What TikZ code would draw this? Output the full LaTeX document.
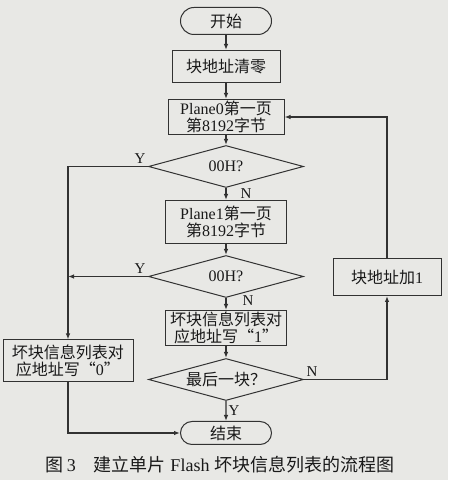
\documentclass[tikz,border=0pt]{standalone}
\usepackage{fontspec}
\setmainfont{Liberation Serif}
\newfontfamily\cjk{Noto Sans CJK SC}
\usetikzlibrary{arrows.meta,positioning,shapes.geometric,shapes.misc}
\definecolor{paper}{RGB}{232,232,229}
\definecolor{ink}{RGB}{50,50,50}

\begin{document}
\begin{tikzpicture}[
  x=1pt,y=1pt,
  line/.style={draw=ink,line width=1.1pt},
  proc/.style={draw=ink,line width=1pt,align=center,inner sep=0.5pt,text=black!90,font=\fontsize{16}{17.5}\selectfont},
  term/.style={proc,rounded rectangle,minimum width=92pt},
  decide/.style={proc,diamond,aspect=3.7,inner sep=0pt,minimum width=155pt,minimum height=42pt},
  lbl/.style={font=\fontsize{15}{15}\selectfont,text=black!90,inner sep=2pt},
  >={Latex[length=6pt,width=4.5pt]}
]
\useasboundingbox[fill=paper] (0,0) rectangle (448,480);
% main column
\node[term,minimum height=27pt] (start) at (226,459) {{\cjk 开始}};
\node[proc,below=15pt of start,minimum width=108pt,minimum height=32pt] (blk) {{\cjk 块地址清零}};
\node[proc,below=16pt of blk,minimum width=116pt,minimum height=35pt] (p0) {Plane0{\cjk 第一页}\\{\cjk 第}8192{\cjk 字节}};
\node[decide,below=10pt of p0] (d1) {00H?};
\node[proc,below=12pt of d1,minimum width=121pt,minimum height=43pt] (p1) {Plane1{\cjk 第一页}\\{\cjk 第}8192{\cjk 字节}};
\node[decide,below=11pt of p1] (d2) {00H?};
\node[proc,below=12pt of d2,minimum width=121pt,minimum height=35pt] (w1) {{\cjk 坏块信息列表对}\\{\cjk 应地址写“}1{\cjk ”}};
\node[decide,below=12pt of w1] (d3) {{\cjk 最后一块？}};
\node[term,below=20pt of d3,minimum height=23pt] (end) {{\cjk 结束}};
% side boxes
\node[proc,minimum width=130pt,minimum height=42pt] (w0) at (68,119) {{\cjk 坏块信息列表对}\\{\cjk 应地址写“}0{\cjk ”}};
\node[proc,minimum width=108pt,minimum height=37pt] (inc) at (387,203) {{\cjk 块地址加}1};
% caption
\node[font=\fontsize{18}{18}\selectfont,text=black!90] (cap) at (220,15) {{\cjk 图}\,3\quad{\cjk 建立单片} Flash {\cjk 坏块信息列表的流程图}};
% connectors
\draw[line,->] (start) -- (blk);
\draw[line,->] (blk) -- (p0);
\draw[line,->] (p0) -- (d1);
\draw[line,->] (d1) -- node[lbl,right,xshift=12pt]{N} (p1);
\draw[line,->] (p1) -- (d2);
\draw[line,->] (d2) -- node[lbl,right,xshift=14pt,yshift=3pt]{N} (w1);
\draw[line,->] (w1) -- (d3);
\draw[line,->] (d3) -- node[lbl,right]{Y} (end);
\draw[line,->] (d1.west) -- node[lbl,above left,pos=0]{Y} (d1.west -| w0.north) -- (w0.north);
\draw[line,->] (d2.west) -- node[lbl,above left,pos=0]{Y} (d2.west -| w0.north);
\draw[line,->] (w0.south) |- (end.west);
\draw[line,->] (d3.east) -- node[lbl,above right,pos=0]{N} (d3.east -| inc.south) -- (inc.south);
\draw[line,->] (inc.north) |- (p0.east);
\end{tikzpicture}
\end{document}
